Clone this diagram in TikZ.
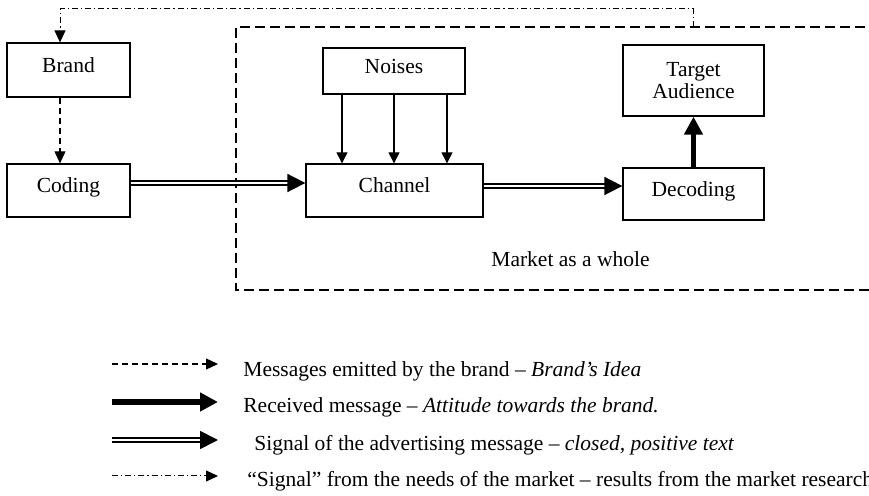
\documentclass[tikz,border=0pt]{standalone}
\usepackage{fontspec}
\setmainfont{Liberation Serif}
\usetikzlibrary{arrows.meta}

\tikzset{
  box/.style={draw, line width=0.65pt, align=center},
  oneline/.style={text height=7.5pt, text depth=5pt},
  msg/.style={line width=0.6pt, dash pattern=on 3pt off 2pt, -{Triangle[length=6pt,width=5.5pt]}},
  recv/.style={line width=2.8pt, -{Triangle[length=9pt,width=9pt]}},
  sig/.style={double, double distance=1.2pt, line width=0.9pt, -{Triangle[length=9pt,width=9pt]}},
  need/.style={line width=0.5pt, dash pattern=on 3pt off 1.5pt on 0.6pt off 1.5pt, -{Triangle[length=6pt,width=5.5pt]}},
  noise/.style={line width=0.55pt, -{Triangle[length=5.5pt,width=5.5pt]}},
  market/.style={line width=0.55pt, dash pattern=on 5pt off 2.5pt},
  legtext/.style={anchor=base west, inner sep=0pt}
}

\begin{document}
\begin{tikzpicture}[x=0.5pt, y=-0.5pt, font=\fontsize{10.75}{12.5}\selectfont]
  \useasboundingbox (0,0) rectangle (869,496);
  \clip (0,0) rectangle (869,496);

  % boxes
  \node[box, oneline, minimum width=61.5pt, minimum height=27pt] (brand) at (68.5,70) {Brand};
  \node[box, oneline, minimum width=61.5pt, minimum height=26.5pt] (coding) at (68.5,190.5) {Coding};
  \node[box, oneline, minimum width=71pt, minimum height=23pt] (noises) at (394,71) {Noises};
  \node[box, oneline, minimum width=88.5pt, minimum height=26.5pt] (channel) at (394.5,190.5) {Channel};
  \node[box, oneline, minimum width=70.5pt, minimum height=26pt] (decoding) at (693.5,194) {Decoding};
  \node[box, minimum width=70.5pt, minimum height=35.5pt] (target) at (693.5,80.5) {Target\\[-1.5pt]Audience};

  % market as a whole
  \draw[market] (880,27) -- (236,27) -- (236,290) -- (880,290);
  \node (mkt) at (570.5,259) {Market as a whole};
  \coordinate (fb) at (693.5,27);

  % connectors
  \draw[need] (fb) -- (fb |- 0,9) -| ([xshift=-4.25pt]brand.north);
  \draw[msg] ([xshift=-4.25pt]brand.south) -- ([xshift=-4.25pt]coding.north);
  \draw[sig] ([yshift=3.75pt]coding.east) -- ([yshift=3.75pt]channel.west);
  \draw[sig] ([yshift=2.25pt]channel.east) -- ([yshift=2.25pt]channel.east -| decoding.west);
  \draw[recv] (decoding) -- (target);
  \foreach \dx in {-26pt,0pt,26.5pt}
    \draw[noise] ([xshift=\dx]noises.south) -- ([xshift=\dx]noises.south |- channel.north);

  % legend
  \draw[msg] (112,364) -- (218,364);
  \draw[recv] (112,402) -- (218,402);
  \draw[sig] (112,440) -- (218,440);
  \draw[need] (112,476) -- (218,476);
  \node[legtext] (l1) at (243,377) {Messages emitted by the brand – \textit{Brand’s Idea}};
  \node[legtext] (l2) at (243,413) {Received message – \textit{Attitude towards the brand.}};
  \node[legtext] (l3) at (254,451) {Signal of the advertising message – \textit{closed, positive text}};
  \node[legtext] (l4) at (247,487) {“Signal” from the needs of the market – results from the market research};
\end{tikzpicture}
\end{document}
